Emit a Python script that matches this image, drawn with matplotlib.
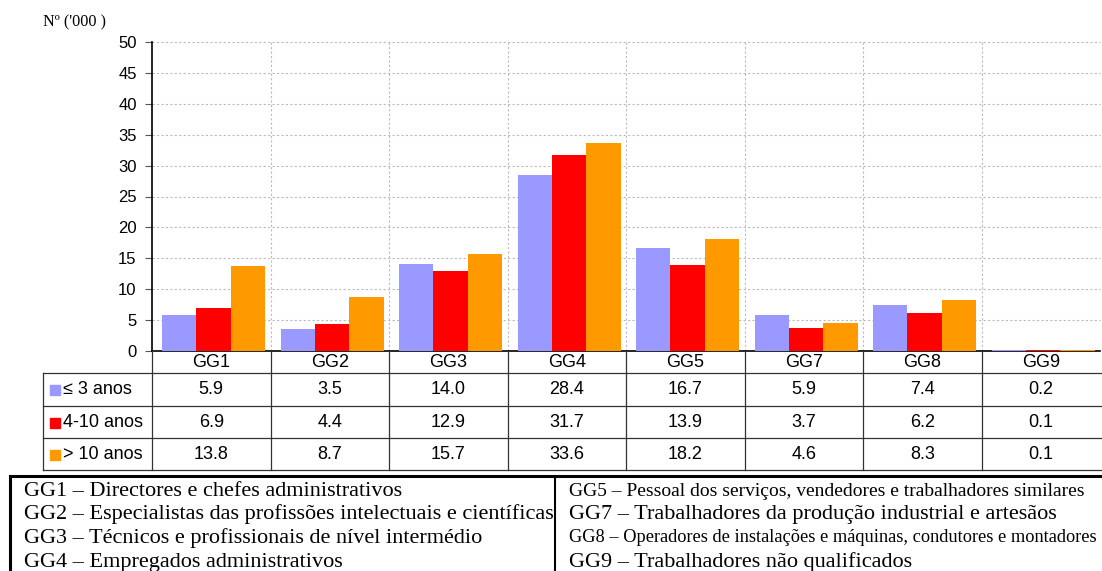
import matplotlib
matplotlib.use("Agg")
import matplotlib.pyplot as plt
import numpy as np

categories = ["GG1", "GG2", "GG3", "GG4", "GG5", "GG7", "GG8", "GG9"]
series_names = ["≤ 3 anos", "4-10 anos", "> 10 anos"]
s_le3 = [5.9, 3.5, 14.0, 28.4, 16.7, 5.9, 7.4, 0.2]
s_4_10 = [6.9, 4.4, 12.9, 31.7, 13.9, 3.7, 6.2, 0.1]
s_gt10 = [13.8, 8.7, 15.7, 33.6, 18.2, 4.6, 8.3, 0.1]
colors = ["#9999FF", "#FF0000", "#FF9900"]
y_ticks = [0, 5, 10, 15, 20, 25, 30, 35, 40, 45, 50]
legend_left = ["GG1 – Directores e chefes administrativos",
               "GG2 – Especialistas das profissões intelectuais e científicas",
               "GG3 – Técnicos e profissionais de nível intermédio",
               "GG4 – Empregados administrativos"]
legend_right = ["GG5 – Pessoal dos serviços, vendedores e trabalhadores similares",
                "GG7 – Trabalhadores da produção industrial e artesãos",
                "GG8 – Operadores de instalações e máquinas, condutores e montadores",
                "GG9 – Trabalhadores não qualificados"]

series = [s_le3, s_4_10, s_gt10]

W, H = 1102, 571
fig = plt.figure(figsize=(W / 100, H / 100), dpi=100)
sans = "Liberation Sans"
serif = "Liberation Serif"

def fx(px):
    return px / W

def fy(py):
    return 1 - py / H

ax_l, ax_r, ax_t, ax_b = 152, 1100, 42, 351
ax = fig.add_axes([fx(ax_l), fy(ax_b), fx(ax_r - ax_l), (ax_b - ax_t) / H])
n = len(categories)
x = np.arange(n)
bw = 0.29
for i, (vals, c) in enumerate(zip(series, colors)):
    ax.bar(x + (i - 1) * bw + 0.02, vals, width=bw, color=c, edgecolor="none", zorder=3)
ax.set_xlim(-0.5, n - 0.5)
ax.set_ylim(0, 50)
ax.set_yticks(y_ticks)
ax.set_yticklabels([str(t) for t in y_ticks], fontfamily=sans, fontsize=12)
ax.set_xticks([])
for yv in y_ticks[1:]:
    ax.axhline(yv, color="#BBBBBB", lw=0.8, ls=(0, (2, 2)), zorder=1, clip_on=False)
for xv in np.arange(0.5, n - 0.5, 1):
    ax.axvline(xv, color="#BBBBBB", lw=0.8, ls=(0, (2, 2)), zorder=1)
for s in ["top", "right"]:
    ax.spines[s].set_visible(False)
ax.spines["left"].set_color("black")
ax.spines["bottom"].set_color("black")
ax.spines["left"].set_linewidth(1.2)
ax.spines["bottom"].set_linewidth(1.2)
ax.tick_params(axis="y", length=5, width=0.8, color="#555555", pad=6)

fig.text(fx(43), fy(22), "Nº ('000 )", fontfamily=serif, fontsize=11.7, ha="left", va="center")

# data table
tb_top, tb_bot = 351, 470
tax = fig.add_axes([fx(ax_l), fy(tb_bot), fx(ax_r - ax_l), (tb_bot - tb_top) / H])
tax.set_xlim(-0.5, n - 0.5)
tax.set_ylim(tb_bot - tb_top, 0)
tax.axis("off")
cat_px = (ax_r - ax_l) / n
left_col = -0.5 - (ax_l - 43) / cat_px
right_end = n - 0.5 + 3 / cat_px
row_y = [0, 22, 55, 87, 119]
lc = "#333333"
for ry in row_y[1:]:
    tax.plot([left_col, right_end], [ry, ry], color=lc, lw=0.9, clip_on=False)
for xv in np.arange(-0.5, n - 1, 1):
    tax.plot([xv, xv], [0, 119], color=lc, lw=0.9, clip_on=False)
tax.plot([left_col, left_col], [22, 119], color=lc, lw=0.9, clip_on=False)
for j, cat in enumerate(categories):
    tax.text(j, 11.5, cat, ha="center", va="center", fontfamily=sans, fontsize=13)
for i, (name, vals, c) in enumerate(zip(series_names, series, colors)):
    yc = (row_y[i + 1] + row_y[i + 2]) / 2 + 0.5
    tax.add_patch(plt.Rectangle((left_col + 7 / cat_px, yc - 5), 10 / cat_px, 10,
                                color=c, clip_on=False))
    tax.text(left_col + 20 / cat_px, yc, name, ha="left", va="center",
             fontfamily=sans, fontsize=13)
    for j, v in enumerate(vals):
        tax.text(j, yc, f"{v:.1f}", ha="center", va="center", fontfamily=sans, fontsize=13)

# legend box
lax = fig.add_axes([0, 0, 1, 1])
lax.set_xlim(0, W)
lax.set_ylim(H, 0)
lax.axis("off")
lax.plot([10, 10], [476, H + 5], color="black", lw=2.2, clip_on=False)
lax.plot([10, W + 5], [476, 476], color="black", lw=2.2, clip_on=False)
lax.plot([555, 555], [476, H + 5], color="black", lw=1.5, clip_on=False)
line_y = [491, 514, 538, 562]
for k, t in enumerate(legend_left):
    lax.text(24, line_y[k], t, fontfamily=serif, fontsize=16, ha="left", va="center")
for k, t in enumerate(legend_right):
    fs = 16
    if k == 0:
        fs = 14
    if k == 2:
        fs = 13.2
    lax.text(569, line_y[k], t, fontfamily=serif, fontsize=fs, ha="left", va="center")

fig.savefig("out.png", dpi=100)
